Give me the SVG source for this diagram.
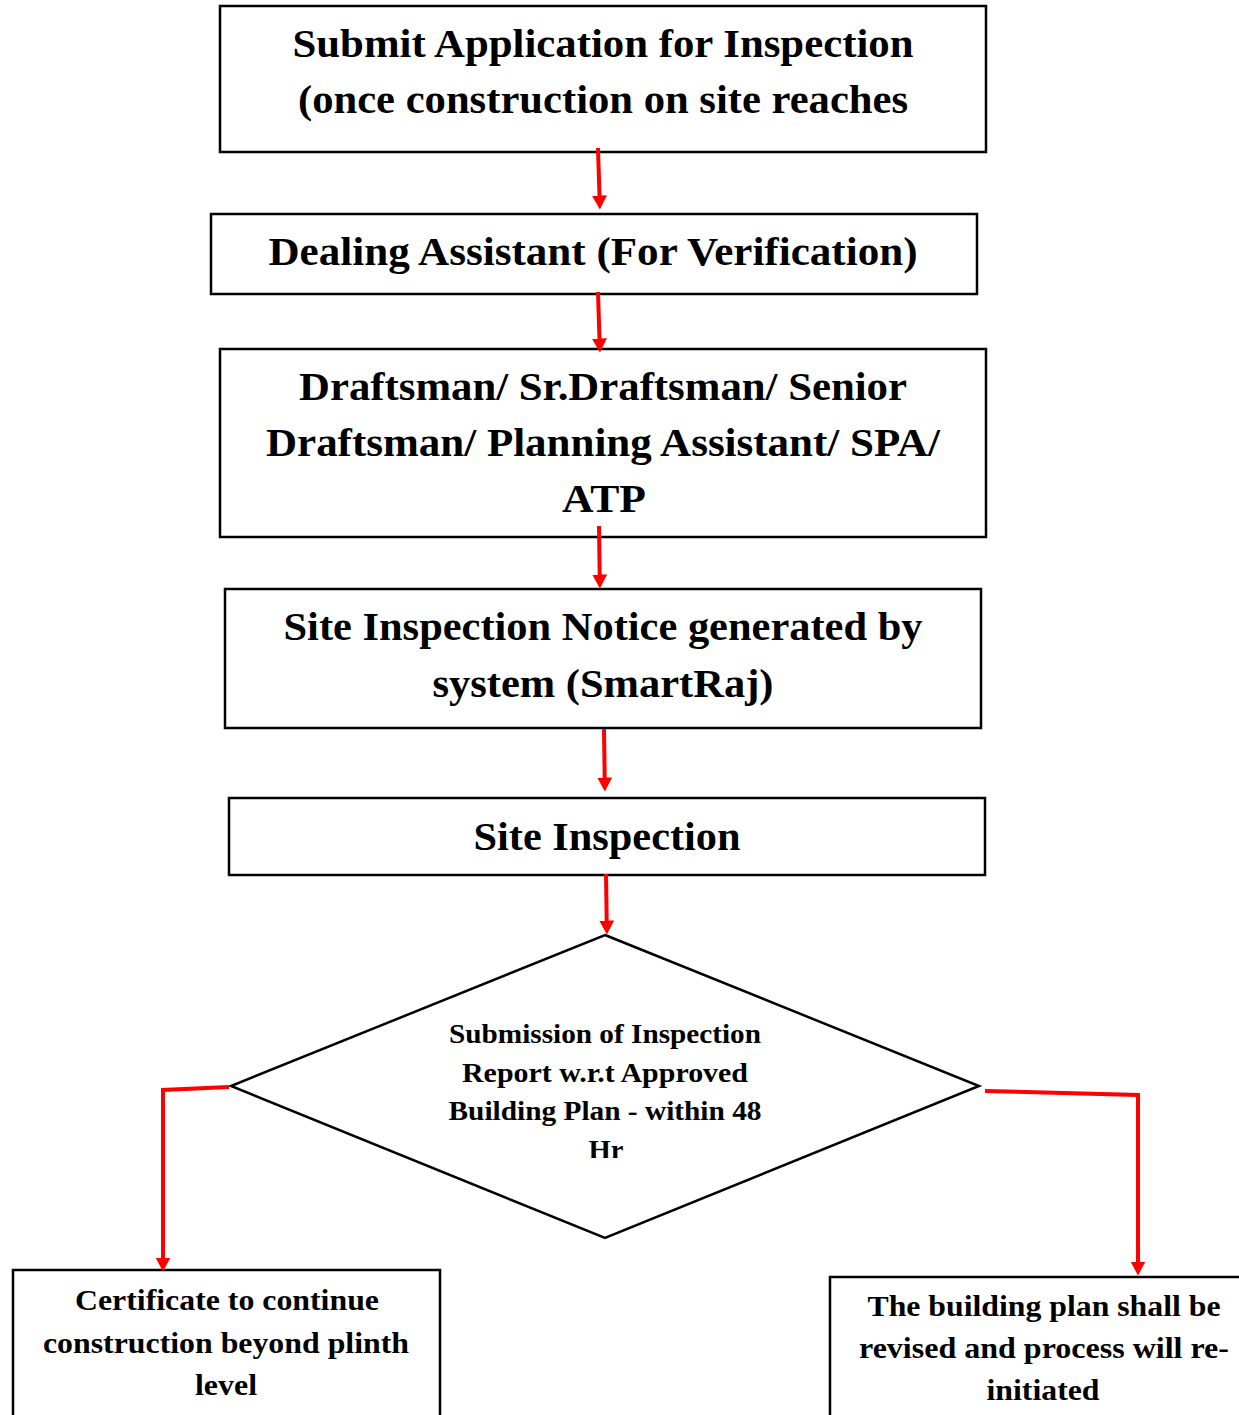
<svg xmlns="http://www.w3.org/2000/svg" width="1239" height="1415" viewBox="0 0 1239 1415">
<style>
.box{fill:#fff;stroke:#000;stroke-width:2.5}
.t{font-family:"Liberation Serif","Times New Roman",serif;font-weight:bold;fill:#000;text-anchor:middle}
.big{font-size:40px}
.mid{font-size:30px}
.sm{font-size:27px}
.con{fill:none;stroke:#ff0000;stroke-width:4}
</style>
<defs>
<marker id="ah" markerWidth="16" markerHeight="16" refX="0.5" refY="7.5" orient="auto" markerUnits="userSpaceOnUse">
<path d="M0,0 L14,7.5 L0,15 Z" fill="#ff0000"/>
</marker>
<clipPath id="dclip"><rect x="0" y="0" width="1239" height="1158"/></clipPath>
</defs>
<rect width="1239" height="1415" fill="#fff"/>
<g id="n1">
<rect class="box" x="220" y="6" width="766" height="146"/>
<text class="t big" x="603" y="57" textLength="621" lengthAdjust="spacingAndGlyphs">Submit Application for Inspection</text>
<text class="t big" x="603" y="113" textLength="610" lengthAdjust="spacingAndGlyphs">(once construction on site reaches</text>
</g>
<g id="n2">
<rect class="box" x="211" y="214" width="766" height="80"/>
<text class="t big" x="593" y="265" textLength="649" lengthAdjust="spacingAndGlyphs">Dealing Assistant (For Verification)</text>
</g>
<g id="n3">
<rect class="box" x="220" y="349" width="766" height="188"/>
<text class="t big" x="603" y="400" textLength="608" lengthAdjust="spacingAndGlyphs">Draftsman/ Sr.Draftsman/ Senior</text>
<text class="t big" x="603" y="456" textLength="674" lengthAdjust="spacingAndGlyphs">Draftsman/ Planning Assistant/ SPA/</text>
<text class="t big" x="604" y="512" textLength="84" lengthAdjust="spacingAndGlyphs">ATP</text>
</g>
<g id="n4">
<rect class="box" x="225" y="589" width="756" height="139"/>
<text class="t big" x="603" y="640" textLength="639" lengthAdjust="spacingAndGlyphs">Site Inspection Notice generated by</text>
<text class="t big" x="603" y="697" textLength="341" lengthAdjust="spacingAndGlyphs">system (SmartRaj)</text>
</g>
<g id="n5">
<rect class="box" x="229" y="798" width="756" height="77"/>
<text class="t big" x="607" y="850" textLength="267" lengthAdjust="spacingAndGlyphs">Site Inspection</text>
</g>
<g id="n6">
<polygon class="box" points="605,935 979,1086 605,1238 231,1086"/>
<text class="t sm" x="605" y="1043" textLength="312" lengthAdjust="spacingAndGlyphs">Submission of Inspection</text>
<text class="t sm" x="605" y="1082" textLength="286" lengthAdjust="spacingAndGlyphs">Report w.r.t Approved</text>
<text class="t sm" x="605" y="1120" textLength="313" lengthAdjust="spacingAndGlyphs">Building Plan - within 48</text>
<text class="t sm" x="606" y="1159" clip-path="url(#dclip)" textLength="35" lengthAdjust="spacingAndGlyphs">Hr</text>
</g>
<g id="n7">
<rect class="box" x="13" y="1270" width="427" height="160"/>
<text class="t mid" x="227" y="1310" textLength="304" lengthAdjust="spacingAndGlyphs">Certificate to continue</text>
<text class="t mid" x="226" y="1353" textLength="366" lengthAdjust="spacingAndGlyphs">construction beyond plinth</text>
<text class="t mid" x="226" y="1395" textLength="62" lengthAdjust="spacingAndGlyphs">level</text>
</g>
<g id="n8">
<rect class="box" x="830" y="1277" width="420" height="160"/>
<text class="t mid" x="1044" y="1316" textLength="353" lengthAdjust="spacingAndGlyphs">The building plan shall be</text>
<text class="t mid" x="1044" y="1358" textLength="370" lengthAdjust="spacingAndGlyphs">revised and process will re-</text>
<text class="t mid" x="1043" y="1400" textLength="113" lengthAdjust="spacingAndGlyphs">initiated</text>
</g>
<g id="connectors">
<path class="con" d="M598,148 L599.5,196" marker-end="url(#ah)"/>
<path class="con" d="M598,292 L599.5,339" marker-end="url(#ah)"/>
<path class="con" d="M599,526 L599.7,575" marker-end="url(#ah)"/>
<path class="con" d="M604,729 L604.7,778" marker-end="url(#ah)"/>
<path class="con" d="M606,874 L606.7,921" marker-end="url(#ah)"/>
<path class="con" d="M229,1087 L163,1090 L163,1258" marker-end="url(#ah)"/>
<path class="con" d="M985,1091 L1138,1095 L1138,1262" marker-end="url(#ah)"/>
</g>
</svg>
